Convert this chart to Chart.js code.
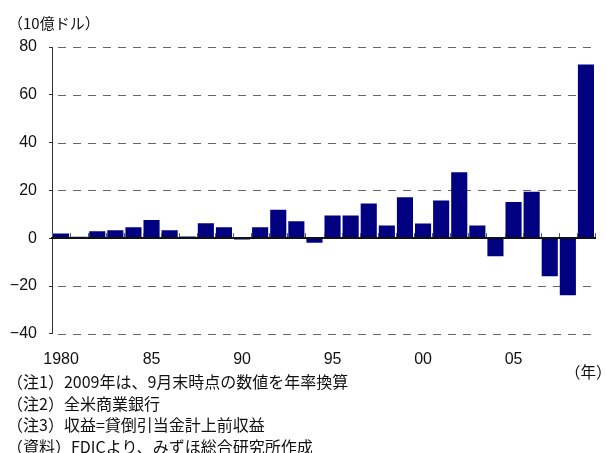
<!DOCTYPE html>
<html>
<head>
<meta charset="utf-8">
<script src="https://cdn.jsdelivr.net/npm/chart.js@4.4.0/dist/chart.umd.min.js"></script>
<style>
  html, body { margin: 0; padding: 0; background: #fff; }
  #wrap { position: relative; width: 606px; height: 453px; overflow: hidden;
          font-family: "Noto Sans CJK JP", sans-serif; color: #111; }
  #wrap canvas { position: absolute; left: 0; top: 0; }
  .unit  { position: absolute; left: 8px; top: 13px; font-size: 15px; line-height: 20px; }
  .year  { position: absolute; left: 565px; top: 361px; font-size: 15.5px; line-height: 20px; }
  .notes { position: absolute; left: 7px; top: 371px; font-size: 16px; line-height: 21.7px; white-space: nowrap; }
</style>
</head>
<body>
<div id="wrap">
  <canvas id="chart" width="606" height="453"></canvas>
  <div class="unit">（10億ドル）</div>
  <div class="year">（年）</div>
  <div class="notes">
    <div>（注1）2009年は、9月末時点の数値を年率換算</div>
    <div>（注2）全米商業銀行</div>
    <div>（注3）収益=貸倒引当金計上前収益</div>
    <div>（資料）FDICより、みずほ総合研究所作成</div>
  </div>
</div>
<script>
// US commercial banks: earnings before loan-loss provisions (billion dollars)
const years = ['1980','1981','1982','1983','1984','1985','1986','1987','1988','1989',
               '1990','1991','1992','1993','1994','1995','1996','1997','1998','1999',
               '2000','2001','2002','2003','2004','2005','2006','2007','2008','2009'];
const earnings = [2.0, 0.6, 2.9, 3.3, 4.6, 7.6, 3.3, 0.7, 6.3, 4.6,
                  -0.5, 4.6, 11.9, 7.1, -1.9, 9.5, 9.5, 14.5, 5.3, 17.1,
                  6.1, 15.8, 27.6, 5.3, -7.6, 15.1, 19.4, -15.9, -23.9, 72.7];
// labels shown under every fifth year
const yearTickText = ['1980', '85', '90', '95', '00', '05'];
const valueTicks = [-40, -20, 0, 20, 40, 60, 80];

const tickFont = { family: '"Liberation Sans", Arial, sans-serif', size: 16 };

// dashed horizontal grid at each value tick
const dashedGrid = {
  id: 'dashedGrid',
  beforeDatasetsDraw(chart) {
    const ys = chart.scales.y, area = chart.chartArea, ctx = chart.ctx;
    ctx.save();
    ctx.strokeStyle = '#666';
    ctx.lineWidth = 1;
    ctx.setLineDash([8, 7]);
    ctx.lineDashOffset = 9;
    ys.ticks.forEach(t => {
      const py = Math.round(ys.getPixelForValue(t.value)) + 0.5;
      ctx.beginPath();
      ctx.moveTo(area.left, py);
      ctx.lineTo(area.right, py);
      ctx.stroke();
    });
    ctx.restore();
  }
};

// short upward marks on the zero line between neighbouring years
const boundaryMarks = {
  id: 'boundaryMarks',
  afterDatasetsDraw(chart) {
    const xs = chart.scales.x, ys = chart.scales.y, ctx = chart.ctx;
    const y0 = ys.getPixelForValue(0);
    ctx.save();
    ctx.strokeStyle = '#555';
    ctx.lineWidth = 1;
    ctx.beginPath();
    for (let i = 0; i <= years.length; i++) {
      const px = Math.round(xs.getPixelForValue(i - 0.5)) + 0.5;
      ctx.moveTo(px, y0);
      ctx.lineTo(px, y0 - 5);
    }
    ctx.stroke();
    ctx.restore();
  }
};

new Chart(document.getElementById('chart'), {
  type: 'bar',
  data: {
    labels: years,
    datasets: [{
      data: earnings,
      backgroundColor: '#000080',
      borderWidth: 0,
      barPercentage: 0.89,
      categoryPercentage: 1,
      xAxisID: 'x',
      yAxisID: 'y'
    }]
  },
  plugins: [dashedGrid, boundaryMarks],
  options: {
    responsive: false,
    animation: false,
    devicePixelRatio: 1,
    layout: { padding: { left: 0, right: 11, top: 47, bottom: 76 } },
    plugins: { legend: { display: false }, tooltip: { enabled: false } },
    scales: {
      // bar axis sitting on the zero line
      x: {
        type: 'category',
        position: { y: 0 },
        offset: true,
        ticks: { display: false },
        grid: { display: false },
        border: { display: true, color: '#111', width: 2, z: 1 }
      },
      // year labels along the bottom
      xl: {
        type: 'category',
        position: 'bottom',
        offset: true,
        grid: { display: false },
        border: { display: false },
        ticks: {
          autoSkip: false, maxRotation: 0, minRotation: 0, padding: 8,
          font: tickFont, color: '#111',
          callback: (v, i) => (i % 5 === 0 ? yearTickText[i / 5] : '')
        }
      },
      y: {
        min: -40, max: 80,
        afterBuildTicks: (scale) => { scale.ticks = valueTicks.map(v => ({ value: v })); },
        afterFit: (scale) => { scale.width = 52; },
        ticks: {
          padding: 12, font: tickFont, color: '#111',
          callback: (v) => (v < 0 ? '\u2212' + (-v) : String(v))
        },
        grid: { drawOnChartArea: false, drawTicks: true, tickLength: 3, tickColor: '#333' },
        border: { display: true, color: '#333', width: 1 }
      }
    }
  }
});
</script>
</body>
</html>
